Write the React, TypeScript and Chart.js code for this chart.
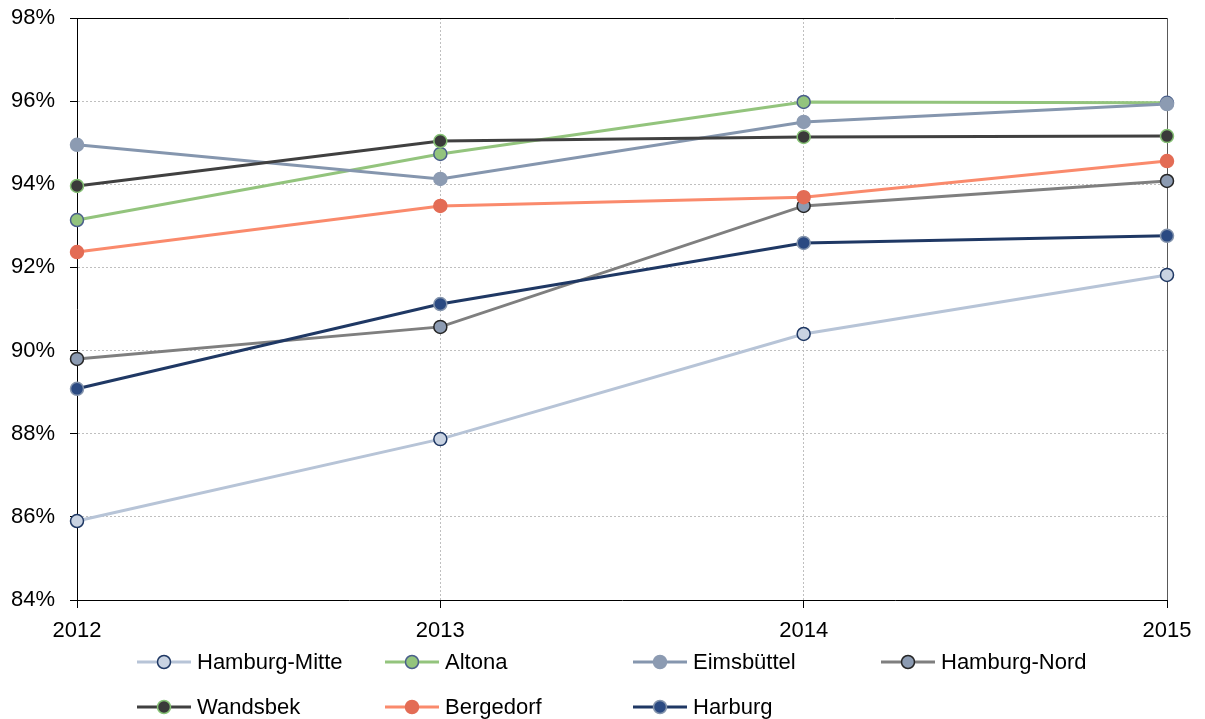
import { useEffect, useRef } from "react";
import { Chart, registerables } from "chart.js";

Chart.register(...registerables);

const years = ["2012", "2013", "2014", "2015"];
const seriesNames = ["Hamburg-Mitte", "Altona", "Eimsbüttel", "Hamburg-Nord", "Wandsbek", "Bergedorf", "Harburg"];
const hamburgMitte = [85.9, 87.87, 90.4, 91.82];
const altona = [93.14, 94.73, 95.98, 95.96];
const eimsbuettel = [94.95, 94.13, 95.5, 95.93];
const hamburgNord = [89.8, 90.57, 93.48, 94.08];
const wandsbek = [93.96, 95.04, 95.14, 95.16];
const bergedorf = [92.37, 93.48, 93.69, 94.56];
const harburg = [89.08, 91.12, 92.59, 92.76];
const yMin = 84;
const yMax = 98;
const yStep = 2;

const seriesValues = [hamburgMitte, altona, eimsbuettel, hamburgNord, wandsbek, bergedorf, harburg];
const lineColors = ["#B7C4D7", "#93C47D", "#8596AE", "#7F7F7F", "#404040", "#FA8A6C", "#1F3864"];
const pointFills = ["#C9D3E2", "#93C47D", "#8C9BB2", "#8C9BB2", "#3A3A3A", "#E36C55", "#2B4A82"];
const pointBorders = ["#1F3864", "#4A5F8C", "#8C9BB2", "#262626", "#86C275", "#E36C55", "#8595AD"];

const FONT = "'Liberation Sans', Arial, sans-serif";
const FONT_SIZE = 22;

const framePlugin = {
  id: "frame",
  beforeDatasetsDraw(chart: any) {
    const { ctx, chartArea } = chart;
    ctx.save();
    ctx.lineWidth = 1;
    ctx.strokeStyle = "#000000";
    ctx.beginPath();
    ctx.moveTo(chartArea.left, chartArea.top + 0.5);
    ctx.lineTo(chartArea.right, chartArea.top + 0.5);
    ctx.stroke();
    ctx.strokeStyle = "#595959";
    ctx.beginPath();
    ctx.moveTo(chartArea.right + 0.5, chartArea.top);
    ctx.lineTo(chartArea.right + 0.5, chartArea.bottom);
    ctx.stroke();
    ctx.restore();
  },
};

const legendPlugin = {
  id: "gridLegend",
  afterDraw(chart: any) {
    const { ctx, chartArea } = chart;
    ctx.save();
    chart.data.datasets.forEach((ds: any, i: number) => {
      const col = i % 4;
      const row = Math.floor(i / 4);
      const x0 = chartArea.left + 60 + col * 248;
      const y = chartArea.bottom + 62 + row * 45;
      ctx.strokeStyle = ds.borderColor;
      ctx.lineWidth = 3;
      ctx.beginPath();
      ctx.moveTo(x0, y);
      ctx.lineTo(x0 + 54, y);
      ctx.stroke();
      ctx.beginPath();
      ctx.arc(x0 + 27, y, 6.5, 0, Math.PI * 2);
      ctx.fillStyle = ds.pointBackgroundColor;
      ctx.fill();
      ctx.lineWidth = 1.5;
      ctx.strokeStyle = ds.pointBorderColor;
      ctx.stroke();
      ctx.fillStyle = "#000000";
      ctx.font = `${FONT_SIZE}px ${FONT}`;
      ctx.textBaseline = "middle";
      ctx.textAlign = "left";
      ctx.fillText(ds.label, x0 + 60, y + 1);
    });
    ctx.restore();
  },
};

export default function App() {
  const canvasRef = useRef<HTMLCanvasElement | null>(null);

  useEffect(() => {
    document.body.style.margin = "0";
    const canvas = canvasRef.current;
    if (!canvas) return;
    const datasets = seriesNames.map((name, i) => ({
      label: name,
      data: seriesValues[i],
      borderColor: lineColors[i],
      backgroundColor: lineColors[i],
      borderWidth: 3,
      pointRadius: 6.5,
      pointHoverRadius: 6.5,
      pointBorderWidth: 1.5,
      pointBackgroundColor: pointFills[i],
      pointBorderColor: pointBorders[i],
      tension: 0,
      fill: false,
      order: -i,
    }));
    const chart = new Chart(canvas, {
      type: "line",
      data: { labels: years, datasets },
      options: {
        animation: false,
        responsive: true,
        maintainAspectRatio: false,
        layout: { padding: { top: 18, right: 38, left: 0, bottom: 0 } },
        plugins: {
          legend: { display: false },
          tooltip: { enabled: false },
        },
        scales: {
          x: {
            type: "category",
            offset: false,
            afterFit: (scale: any) => {
              scale.height = 119;
              scale.paddingLeft = 0;
              scale.paddingRight = 0;
            },
            grid: {
              color: (c: any) => (c.index === 0 || c.index === years.length - 1 ? "rgba(0,0,0,0)" : "#BFBFBF"),
              lineWidth: 1,
              tickColor: "#000000",
              tickLength: 8,
              drawTicks: true,
            },
            border: { display: true, color: "#000000", width: 1, dash: [2, 2] },
            ticks: {
              color: "#000000",
              font: { family: FONT, size: FONT_SIZE },
              padding: 10,
              maxRotation: 0,
            },
          },
          y: {
            min: yMin,
            max: yMax,
            afterFit: (scale: any) => {
              scale.width = 77;
              scale.paddingTop = 0;
              scale.paddingBottom = 0;
            },
            grid: {
              color: (c: any) => (c.tick && (c.tick.value === yMin || c.tick.value === yMax) ? "rgba(0,0,0,0)" : "#BFBFBF"),
              lineWidth: 1,
              tickColor: "#000000",
              tickLength: 7,
              drawTicks: true,
            },
            border: { display: true, color: "#000000", width: 1, dash: [2, 2] },
            ticks: {
              stepSize: yStep,
              color: "#000000",
              font: { family: FONT, size: FONT_SIZE },
              padding: 15,
              callback: (v: any) => `${v}%`,
            },
          },
        },
      },
      plugins: [framePlugin, legendPlugin],
    });
    return () => chart.destroy();
  }, []);

  return (
    <div style={{ position: "relative", width: 1205, height: 719 }}>
      <canvas ref={canvasRef} />
    </div>
  );
}
